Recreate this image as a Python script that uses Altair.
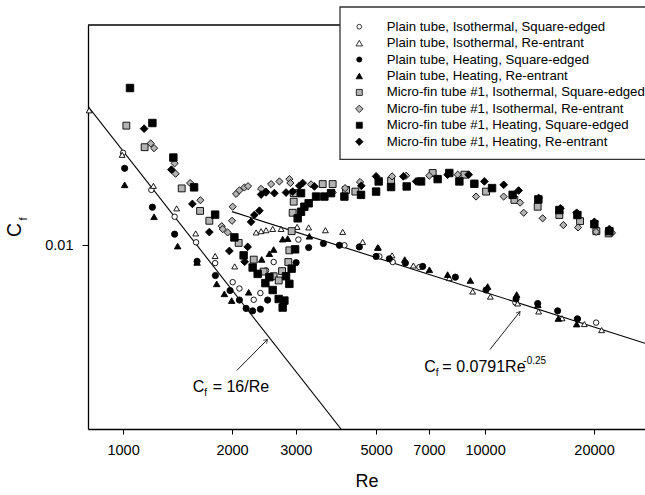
import altair as alt
import pandas as pd

SERIES = [
    "Plain tube, Isothermal, Square-edged",
    "Plain tube, Isothermal, Re-entrant",
    "Plain tube, Heating, Square-edged",
    "Plain tube, Heating, Re-entrant",
    "Micro-fin tube #1, Isothermal, Square-edged",
    "Micro-fin tube #1, Isothermal, Re-entrant",
    "Micro-fin tube #1, Heating, Square-edged",
    "Micro-fin tube #1, Heating, Re-entrant",
]
SHAPES = ["circle", "triangle-up", "circle", "triangle-up", "square", "diamond", "square", "diamond"]
FILLS = ["white", "white", "black", "black", "#b3b3b3", "#b3b3b3", "black", "black"]
SIZES = [30, 60, 36, 60, 50, 78, 50, 78]
LEG_SIZES = [22, 42, 26, 42, 36, 56, 36, 56]

pis_re = [1000, 1197, 1388, 1591, 1796, 2008, 2096, 2296, 2395, 2483, 2606, 3050, 4087, 5105, 5557, 6586, 12125, 18025, 20262]
pis_cf = [0.01586, 0.01318, 0.01153, 0.01015, 0.00915, 0.00832, 0.00806, 0.00762, 0.00788, 0.00882, 0.00920, 0.01029, 0.01000, 0.00946, 0.00920, 0.00897, 0.00752, 0.00692, 0.00680]

pir_re = [806, 994, 1213, 1406, 1587, 1796, 2034, 2331, 2406, 2483, 2590, 2732, 3025, 3256, 3622, 4043, 4590, 5073, 5535, 6339, 7966, 9242, 10342, 12303, 14061, 16322, 18805, 20993]
pir_cf = [0.0196, 0.0157, 0.01345, 0.01202, 0.01061, 0.00948, 0.00900, 0.01066, 0.01073, 0.01078, 0.01085, 0.01085, 0.01096, 0.01093, 0.01078, 0.01069, 0.01017, 0.00989, 0.00951, 0.00904, 0.00849, 0.00794, 0.00774, 0.00748, 0.00719, 0.00695, 0.00675, 0.00655]

phs_re = [1010, 1205, 1388, 1601, 1799, 1975, 2096, 2187, 2280, 2395, 2508, 3006, 3256, 3576, 3958, 4495, 5000, 5440, 6024, 6725, 8279, 10064, 12178, 13975, 15868, 17989]
phs_cf = [0.01468, 0.01209, 0.01057, 0.00923, 0.00860, 0.00798, 0.00761, 0.00730, 0.00721, 0.00727, 0.00761, 0.00917, 0.00989, 0.01009, 0.01000, 0.00992, 0.00946, 0.00935, 0.00915, 0.00900, 0.00853, 0.00800, 0.00765, 0.00748, 0.00721, 0.00693]

phr_re = [1010, 1218, 1415, 1601, 1814, 1905, 1995, 2223, 2415, 2536, 2606, 2760, 2849, 3271, 5051, 5998, 7018, 7880, 9108, 10167, 12226, 13994, 15937, 17907]
phr_cf = [0.01352, 0.01153, 0.00996, 0.00918, 0.00825, 0.00785, 0.00759, 0.00791, 0.00932, 0.00959, 0.00979, 0.01031, 0.01034, 0.01046, 0.00989, 0.00931, 0.00885, 0.00864, 0.00839, 0.00814, 0.00782, 0.00743, 0.00694, 0.00675]

mis_re = [1021, 1147, 1452, 1632, 1731, 2086, 2296, 2445, 2606, 2691, 2749, 2861, 2880, 2922, 2941, 2960, 2960, 3560, 3793, 4131, 4382, 5500, 7167, 8766, 10064, 12050, 13975, 16040, 18300, 20300, 21950]
mis_cf = [0.01816, 0.01631, 0.01328, 0.01187, 0.01130, 0.01012, 0.00931, 0.00877, 0.00857, 0.00839, 0.00879, 0.00920, 0.00975, 0.01073, 0.01176, 0.01243, 0.01297, 0.01357, 0.01357, 0.01318, 0.01307, 0.01379, 0.01434, 0.01422, 0.01307, 0.01254, 0.01212, 0.01163, 0.01128, 0.01073, 0.01061]

mir_re = [1192, 1218, 1388, 1397, 1532, 1635, 1873, 1885, 1945, 2000, 2008, 2052, 2096, 2163, 2214, 2406, 2483, 2564, 2703, 2880, 2899, 3306, 3793, 4105, 4514, 5535, 6051, 7013, 8401, 9443, 11256, 12496, 12785, 14425, 16457, 18068, 20262, 22429]
mir_cf = [0.01662, 0.01623, 0.01505, 0.01429, 0.01364, 0.01252, 0.01100, 0.01084, 0.01066, 0.01130, 0.01212, 0.01292, 0.01315, 0.01334, 0.01343, 0.01325, 0.01307, 0.01357, 0.01375, 0.01391, 0.01364, 0.01355, 0.01301, 0.01330, 0.01371, 0.01410, 0.01415, 0.01415, 0.01422, 0.01275, 0.01275, 0.01237, 0.01176, 0.01144, 0.01106, 0.01093, 0.01069, 0.01064]

mhs_re = [1045, 1205, 1377, 1571, 1796, 2030, 2153, 2280, 2354, 2472, 2536, 2590, 2691, 2760, 2790, 2820, 2880, 2922, 2987, 3036, 3102, 3168, 3256, 3102, 3413, 3598, 3754, 4087, 4543, 5000, 5083, 5500, 6074, 6656, 7396, 7966, 8492, 9342, 10455, 11918, 14036, 16040, 17990, 20043, 22050]
mhs_cf = [0.02191, 0.01840, 0.01549, 0.01335, 0.01165, 0.01040, 0.00951, 0.00895, 0.00867, 0.00828, 0.00853, 0.00800, 0.00765, 0.00733, 0.00759, 0.00857, 0.00825, 0.00890, 0.00980, 0.01144, 0.01182, 0.01212, 0.01233, 0.01297, 0.01275, 0.01275, 0.01297, 0.01275, 0.01286, 0.01307, 0.01375, 0.01337, 0.01341, 0.01375, 0.01391, 0.01434, 0.01375, 0.01359, 0.01330, 0.01286, 0.01257, 0.01192, 0.01163, 0.01111, 0.01073]

mhr_re = [1143, 1360, 1554, 1731, 1966, 2167, 2209, 2257, 2305, 2380, 2406, 2483, 2618, 2820, 2941, 3069, 3134, 3377, 4551, 5000, 5948, 6450, 7880, 9010, 9956, 11256, 12382, 14061, 16143, 17907, 20043, 22050]
mhr_cf = [0.01789, 0.01458, 0.01229, 0.01068, 0.00972, 0.00921, 0.00992, 0.01124, 0.01163, 0.01188, 0.01288, 0.01302, 0.01297, 0.01301, 0.01307, 0.01345, 0.01364, 0.01341, 0.01345, 0.01410, 0.01410, 0.01375, 0.01422, 0.01422, 0.01375, 0.01352, 0.01314, 0.01266, 0.01202, 0.01176, 0.01124, 0.01084]

RE_LISTS = [pis_re, pir_re, phs_re, phr_re, mis_re, mir_re, mhs_re, mhr_re]
CF_LISTS = [pis_cf, pir_cf, phs_cf, phr_cf, mis_cf, mir_cf, mhs_cf, mhr_cf]

# correlation lines (range of Re drawn)
lam_re = [800, 4000]
blas_re = [2000, 27660]

X_TICKS = [1000, 2000, 3000, 5000, 7000, 10000, 20000]
Y_TICKS = [0.01]

rows = []
for name, res, cfs in zip(SERIES, RE_LISTS, CF_LISTS):
    for r, c in zip(res, cfs):
        rows.append({"series": name, "Re": r, "Cf": c})
df = pd.DataFrame(rows)

lines = pd.DataFrame(
    [{"line": "lam", "Re": r, "Cf": 16.0 / r} for r in lam_re]
    + [{"line": "blas", "Re": r, "Cf": 0.0791 * r ** -0.25} for r in blas_re]
)

W, H = 557, 404
FONT = "Liberation Sans"
xscale = alt.Scale(type="log", domain=[800, 27660], nice=False)
yscale = alt.Scale(type="log", domain=[0.004, 0.03], nice=False)

xenc = alt.X("Re:Q", scale=xscale, axis=alt.Axis(
    values=X_TICKS, format="d", title="Re", grid=False, labelOverlap=False,
    labelFontSize=14.5, labelPadding=9, tickSize=5, tickColor="black",
    domainColor="black", domainWidth=1.3, tickWidth=1,
    titleFontSize=18, titleFontWeight="normal", titlePadding=16, labelColor="black", titleColor="black"))
yenc = alt.Y("Cf:Q", scale=yscale, axis=alt.Axis(
    values=Y_TICKS, format=".2f", title=None, grid=False,
    labelFontSize=14.5, labelPadding=9, tickSize=6, tickColor="black",
    domainColor="black", domainWidth=1.3, tickWidth=1, labelColor="black"))

points = alt.Chart(df).mark_point(filled=True, stroke="black", strokeWidth=0.9, opacity=1).encode(
    x=xenc, y=yenc,
    shape=alt.Shape("series:N", scale=alt.Scale(domain=SERIES, range=SHAPES), legend=None),
    fill=alt.Fill("series:N", scale=alt.Scale(domain=SERIES, range=FILLS), legend=None),
    size=alt.Size("series:N", scale=alt.Scale(domain=SERIES, range=SIZES), legend=None),
)

fit = alt.Chart(lines).mark_line(color="black", strokeWidth=1.1, clip=True).encode(
    x=alt.X("Re:Q", scale=xscale), y=alt.Y("Cf:Q", scale=yscale), detail="line:N"
)

# annotation arrows (data coordinates)
arrows = pd.DataFrame([
    {"a": 1, "Re": 2060, "Cf": 0.005354}, {"a": 1, "Re": 2508, "Cf": 0.006255},
    {"a": 2, "Re": 10320, "Cf": 0.005948}, {"a": 2, "Re": 12496, "Cf": 0.007187},
])
arrow_lines = alt.Chart(arrows).mark_line(color="black", strokeWidth=0.9).encode(
    x=alt.X("Re:Q", scale=xscale), y=alt.Y("Cf:Q", scale=yscale), detail="a:N"
)
heads = pd.DataFrame([
    {"Re": 2508, "Cf": 0.006255, "ang": 45},
    {"Re": 12496, "Cf": 0.007187, "ang": 39},
])
arrow_heads = alt.Chart(heads).mark_point(
    shape="M -0.6 1 L 0 0 L 0.6 1", filled=False, stroke="black", strokeWidth=0.9, size=60
).encode(x=alt.X("Re:Q", scale=xscale), y=alt.Y("Cf:Q", scale=yscale), angle=alt.Angle("ang:Q", scale=None))

lab1 = pd.DataFrame([{"Re": 1557, "Cf": 0.004812}])
lab2 = pd.DataFrame([{"Re": 6797, "Cf": 0.005316}])


def txt(d, text, dx=0, dy=0, size=16):
    return alt.Chart(d).mark_text(text=text, align="left", baseline="alphabetic", dx=dx, dy=dy,
                                  fontSize=size, font=FONT, color="black").encode(
        x=alt.X("Re:Q", scale=xscale), y=alt.Y("Cf:Q", scale=yscale))


ann = [
    txt(lab1, "C"), txt(lab1, "f", dx=11.5, dy=4, size=10), txt(lab1, "= 16/Re", dx=20),
    txt(lab2, "C"), txt(lab2, "f", dx=11.5, dy=4, size=10), txt(lab2, "= 0.0791Re", dx=18),
    txt(lab2, "-0.25", dx=99, dy=-8, size=10),
]

one = pd.DataFrame({"k": [0]})
top_border = alt.Chart(one).mark_rule(color="black", strokeWidth=1.3).encode(
    x=alt.value(0), x2=alt.value(W), y=alt.value(0))
ytitle_c = alt.Chart(one).mark_text(text="C", angle=270, fontSize=19.5, font=FONT, color="black",
                                    align="center", baseline="middle").encode(x=alt.value(-73), y=alt.value(205))
ytitle_f = alt.Chart(one).mark_text(text="f", angle=270, fontSize=11, font=FONT, color="black",
                                    align="center", baseline="middle").encode(x=alt.value(-64), y=alt.value(194))

# legend box (drawn with marks, placed in pixels relative to the plot area)
LEG_LEFT, LEG_TOP, LEG_BOTTOM = 252, -18, 134.3
ROW0, ROW_STEP = 1.7, 16.43
SYM_X, TXT_X = 271.3, 298.7
legend_layers = [
    alt.Chart(one).mark_rect(fill="white", stroke="#333333", strokeWidth=1.3).encode(
        x=alt.value(LEG_LEFT), x2=alt.value(W + 6), y=alt.value(LEG_TOP), y2=alt.value(LEG_BOTTOM))
]
for i, name in enumerate(SERIES):
    ry = ROW0 + i * ROW_STEP
    d = pd.DataFrame({"series": [name]})
    legend_layers.append(
        alt.Chart(d).mark_point(filled=True, shape=SHAPES[i], fill=FILLS[i], stroke="black",
                                strokeWidth=0.8, size=LEG_SIZES[i], opacity=1).encode(
            x=alt.value(SYM_X), y=alt.value(ry)))
    legend_layers.append(
        alt.Chart(d).mark_text(align="left", baseline="middle", fontSize=13.2, font=FONT,
                               color="black").encode(
            x=alt.value(TXT_X), y=alt.value(ry), text="series:N"))

chart = alt.layer(top_border, fit, arrow_lines, arrow_heads, *ann, points, ytitle_c, ytitle_f,
                  *legend_layers).properties(
    width=W, height=H,
    autosize=alt.AutoSizeParams(type="none"),
    padding={"left": 88, "top": 25, "right": 0, "bottom": 66},
).configure(font=FONT).configure_view(stroke=None)

chart.save("out.html", embed_options={"renderer": "svg", "actions": False})
